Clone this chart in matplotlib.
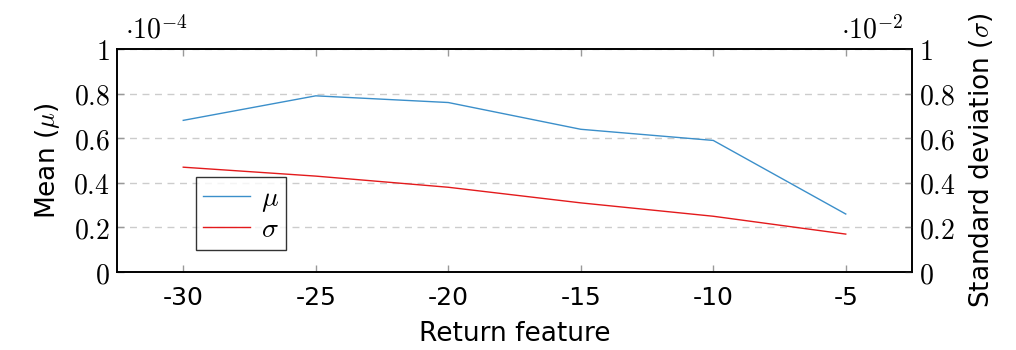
import numpy as np
import matplotlib.pyplot as plt
from matplotlib.ticker import FixedLocator, FixedFormatter

plt.rcParams['mathtext.fontset'] = 'cm'
plt.rcParams['font.family'] = ['DejaVu Sans']

# data
features = [-30, -25, -20, -15, -10, -5]
mean_vals = [0.68, 0.79, 0.76, 0.64, 0.59, 0.26]     # x 1e-4
std_vals = [0.47, 0.43, 0.38, 0.31, 0.25, 0.17]      # x 1e-2
y_ticks = [0, 0.2, 0.4, 0.6, 0.8, 1]
y_tick_labels = ['0', '0.2', '0.4', '0.6', '0.8', '1']
x_tick_labels = ['-30', '-25', '-20', '-15', '-10', '-5']

fig = plt.figure(figsize=(10.16, 3.5), dpi=100)
ax = fig.add_axes([117 / 1016, 1 - 272 / 350, 795 / 1016, 223 / 350])
ax2 = ax.twinx()

blue = '#3b8fca'
red = '#e31a1c'
l1, = ax.plot(features, mean_vals, color=blue, lw=1.0, label=r'$\mu$')
l2, = ax2.plot(features, std_vals, color=red, lw=1.0, label=r'$\sigma$')

for a in (ax, ax2):
    a.set_ylim(0, 1)
    a.set_xlim(-32.5, -2.5)
    a.yaxis.set_major_locator(FixedLocator(y_ticks))
    a.yaxis.set_major_formatter(FixedFormatter(['$' + t + '$' for t in y_tick_labels]))
    a.tick_params(direction='in', length=5, color='#999999', labelsize=20, width=1)
    for s in a.spines.values():
        s.set_linewidth(1.2)
ax.set_xticks(features)
ax.set_xticklabels(x_tick_labels, fontsize=18)
ax.tick_params(axis='x', top=True, pad=10)
ax.tick_params(axis='y', right=False, pad=5)
ax2.tick_params(axis='y', pad=5)

ax.grid(axis='y', color='#cccccc', ls=(0, (5, 4)), lw=1.0)
ax.set_axisbelow(True)

ax.set_xlabel('Return feature', fontsize=19, labelpad=8)
ax.set_ylabel(r'Mean ($\mu$)', fontsize=19, labelpad=8)
ax2.set_ylabel(r'Standard deviation ($\sigma$)', fontsize=19, labelpad=8)

ax.text(0.01, 1.02, r'$\cdot 10^{-4}$', transform=ax.transAxes, fontsize=20, ha='left', va='bottom')
ax2.text(0.99, 1.02, r'$\cdot 10^{-2}$', transform=ax2.transAxes, fontsize=20, ha='right', va='bottom')

leg = ax2.legend(handles=[l1, l2], loc='lower left', bbox_to_anchor=(0.099, 0.099),
                 fontsize=20, frameon=True, fancybox=False, edgecolor='black',
                 handlelength=1.7, borderpad=0.25, labelspacing=0.05, handletextpad=0.4,
                 borderaxespad=0)
leg.get_frame().set_linewidth(1.0)

fig.savefig('out.png', dpi=100)
